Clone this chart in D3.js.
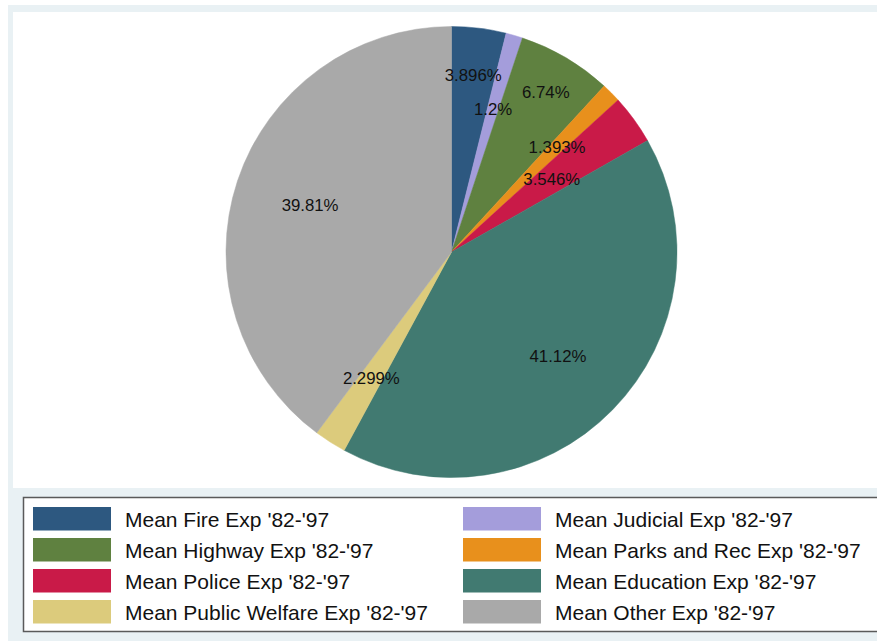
<!DOCTYPE html>
<html>
<head>
<meta charset="utf-8">
<script src="https://cdn.jsdelivr.net/npm/d3@7"></script>
<style>
  html, body { margin: 0; padding: 0; background: #ffffff; }
  svg { display: block; font-family: "Liberation Sans", Arial, Helvetica, sans-serif; }
</style>
</head>
<body>
<svg id="chart" width="877" height="641"></svg>
<script>
// Slice order, clockwise from 12 o'clock
const categories = [
  "Mean Fire Exp '82-'97",
  "Mean Judicial Exp '82-'97",
  "Mean Highway Exp '82-'97",
  "Mean Parks and Rec Exp '82-'97",
  "Mean Police Exp '82-'97",
  "Mean Education Exp '82-'97",
  "Mean Public Welfare Exp '82-'97",
  "Mean Other Exp '82-'97"
];
// Percent of total spending
const shares = [3.896, 1.2, 6.74, 1.393, 3.546, 41.12, 2.299, 39.81];

// Fill colours, one per category
const sliceColors = ["#2d5880", "#a49ddb", "#5f8140", "#e8901c", "#c91a48", "#417a71", "#dccb7c", "#a9a9a9"];

// Radius at which each slice's percentage sits (default, with a few nudged)
const labelRadius = {
  default: 149,
  "Mean Fire Exp '82-'97": 178,
  "Mean Highway Exp '82-'97": 186,
  "Mean Police Exp '82-'97": 124
};

const W = 877, H = 641;
const svg = d3.select("#chart");

// Graph region background and plot area
svg.append("rect").attr("x", 8).attr("y", 5).attr("width", W - 8).attr("height", H - 5).attr("fill", "#e9f1f4");
svg.append("rect").attr("x", 13).attr("y", 12).attr("width", W - 13).attr("height", 476).attr("fill", "#ffffff");

// Pie
const cx = 451.5, cy = 252, R = 225.5;
const data = categories.map((c, i) => ({ name: c, value: shares[i], color: sliceColors[i] }));
const pie = d3.pie().value(d => d.value).sort(null).startAngle(0).endAngle(2 * Math.PI);
const arcs = pie(data);
const arc = d3.arc().innerRadius(0).outerRadius(R);

const g = svg.append("g").attr("transform", `translate(${cx},${cy})`);
g.selectAll("path.slice")
  .data(arcs)
  .join("path")
  .attr("class", "slice")
  .attr("d", arc)
  .attr("fill", d => d.data.color)
  .attr("stroke", d => d.data.color)
  .attr("stroke-width", 0.5);

g.selectAll("text.plabel")
  .data(arcs)
  .join("text")
  .attr("class", "plabel")
  .attr("x", d => {
    const a = (d.startAngle + d.endAngle) / 2;
    const r = labelRadius[d.data.name] ?? labelRadius.default;
    return r * Math.sin(a);
  })
  .attr("y", d => {
    const a = (d.startAngle + d.endAngle) / 2;
    const r = labelRadius[d.data.name] ?? labelRadius.default;
    return -r * Math.cos(a);
  })
  .attr("dy", "0.36em")
  .attr("text-anchor", "middle")
  .attr("font-size", 16.8)
  .attr("fill", "#111")
  .text(d => `${d.data.value}%`);

// Legend: two columns, filled row by row
const legend = svg.append("g");
legend.append("rect")
  .attr("x", 23.5).attr("y", 497.5).attr("width", W).attr("height", 134)
  .attr("fill", "#ffffff").attr("stroke", "#5a5a5a").attr("stroke-width", 1.5);

const colX = [33, 463];
const rowY0 = 507, rowStep = 31;
const items = legend.selectAll("g.item")
  .data(data)
  .join("g")
  .attr("class", "item")
  .attr("transform", (d, i) => `translate(${colX[i % 2]},${rowY0 + Math.floor(i / 2) * rowStep})`);

items.append("rect")
  .attr("width", 78).attr("height", 23.5)
  .attr("fill", d => d.color);

items.append("text")
  .attr("x", 92).attr("y", 12)
  .attr("dy", "0.36em")
  .attr("font-size", 21)
  .attr("fill", "#111")
  .text(d => d.name);
</script>
</body>
</html>
